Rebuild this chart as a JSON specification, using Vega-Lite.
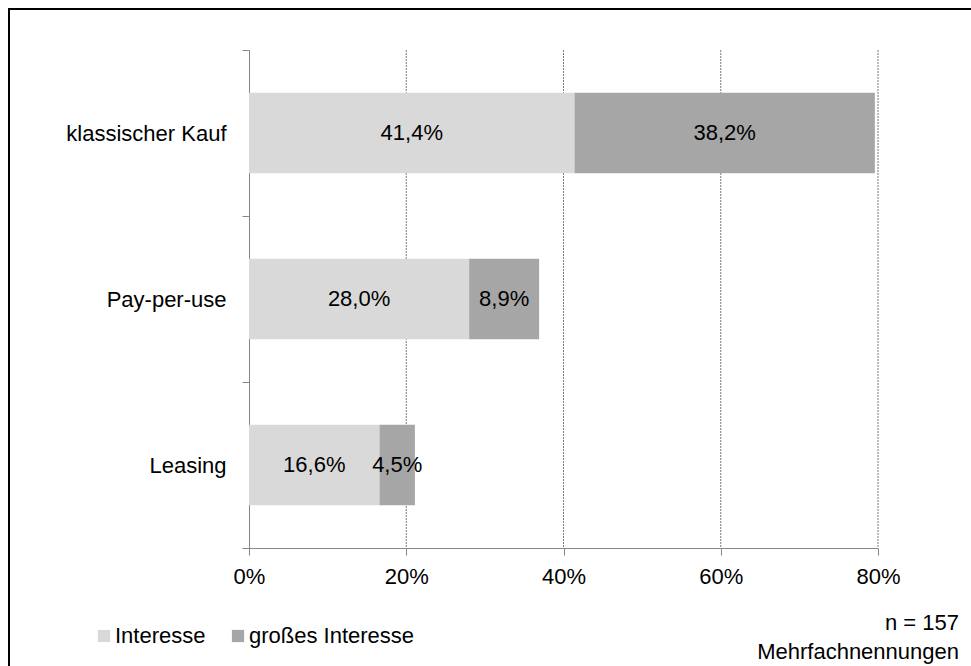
{
  "$schema": "https://vega.github.io/schema/vega-lite/v6.json",
  "autosize": "none",
  "padding": {"left": 9, "top": 9, "right": 0, "bottom": 0},
  "width": 965,
  "height": 665,
  "background": "white",
  "config": {
    "locale": {"number": {"decimal": ",", "thousands": ".", "grouping": [3], "currency": ["", " €"]}},
    "view": {"stroke": "black", "strokeWidth": 2},
    "font": "Liberation Sans",
    "axis": {
      "labelFont": "Liberation Sans",
      "labelFontSize": 22,
      "labelColor": "black",
      "domainColor": "#868686",
      "tickColor": "#868686",
      "tickSize": 7,
      "title": null
    },
    "legend": {"labelFont": "Liberation Sans"},
    "title": {"font": "Liberation Sans"}
  },
  "title": {
    "text": ["n = 157", "Mehrfachnennungen"],
    "orient": "bottom",
    "anchor": "end",
    "frame": "group",
    "align": "right",
    "offset": 0,
    "dx": -15,
    "dy": -61,
    "fontSize": 22,
    "fontWeight": "normal",
    "lineHeight": 29,
    "color": "black"
  },
  "data": {
    "values": [
      {"Option": "klassischer Kauf", "Stufe": "Interesse", "Rang": 1, "Anteil": 0.414},
      {"Option": "klassischer Kauf", "Stufe": "großes Interesse", "Rang": 2, "Anteil": 0.382},
      {"Option": "Pay-per-use", "Stufe": "Interesse", "Rang": 1, "Anteil": 0.28},
      {"Option": "Pay-per-use", "Stufe": "großes Interesse", "Rang": 2, "Anteil": 0.089},
      {"Option": "Leasing", "Stufe": "Interesse", "Rang": 1, "Anteil": 0.166},
      {"Option": "Leasing", "Stufe": "großes Interesse", "Rang": 2, "Anteil": 0.045}
    ]
  },
  "resolve": {"scale": {"y": "independent"}},
  "layer": [
    {
      "data": {"values": [{"Marke": 0.2}, {"Marke": 0.4}, {"Marke": 0.6}, {"Marke": 0.8}]},
      "mark": {"type": "rule", "color": "#7a7a7a", "strokeWidth": 1, "strokeDash": [2, 1]},
      "encoding": {
        "x": {
          "field": "Marke",
          "type": "quantitative",
          "scale": {"domain": [0, 0.8], "range": [240, 869], "nice": false, "zero": true},
          "axis": {
            "orient": "bottom",
            "offset": -126,
            "values": [0, 0.2, 0.4, 0.6, 0.8],
            "format": ".0%",
            "labelPadding": 11,
            "labelFlush": false,
            "grid": false,
            "title": null
          }
        },
        "y": {"datum": 0, "type": "quantitative", "scale": {"domain": [0, 1], "range": [41, 539]}, "axis": null},
        "y2": {"datum": 1}
      }
    },
    {
      "transform": [
        {"stack": "Anteil", "groupby": ["Option"], "sort": [{"field": "Rang", "order": "ascending"}], "as": ["v0", "v1"]}
      ],
      "layer": [
        {
          "mark": {"type": "bar", "height": {"band": 0.485}},
          "encoding": {
            "y": {
              "field": "Option",
              "type": "nominal",
              "sort": ["klassischer Kauf", "Pay-per-use", "Leasing"],
              "scale": {"range": [41, 539], "paddingInner": 0, "paddingOuter": 0},
              "axis": {"orient": "left", "offset": -240, "tickBand": "extent", "labelPadding": 16, "grid": false}
            },
            "x": {
              "field": "v0",
              "type": "quantitative",
              "axis": {
                "orient": "bottom",
                "offset": -126,
                "values": [0, 0.2, 0.4, 0.6, 0.8],
                "format": ".0%",
                "labelPadding": 11,
                "labelFlush": false,
                "grid": false,
                "title": null
              }
            },
            "x2": {"field": "v1"},
            "color": {
              "field": "Stufe",
              "type": "nominal",
              "scale": {"domain": ["Interesse", "großes Interesse"], "range": ["#d9d9d9", "#a6a6a6"]},
              "legend": {
                "orient": "none",
                "legendX": 84,
                "legendY": 616,
                "direction": "horizontal",
                "title": null,
                "padding": 0,
                "symbolType": "square",
                "symbolSize": 150,
                "symbolStrokeWidth": 0,
                "labelFontSize": 22,
                "labelColor": "black",
                "labelLimit": 400,
                "labelOffset": 0,
                "columnPadding": 21
              }
            }
          }
        },
        {
          "transform": [
            {"fold": ["v0", "v1"], "as": ["Kante", "Pos"]},
            {"aggregate": [{"op": "mean", "field": "Pos", "as": "Mitte"}], "groupby": ["Option", "Stufe", "Anteil"]}
          ],
          "mark": {"type": "text", "fontSize": 22, "color": "black", "font": "Liberation Sans"},
          "encoding": {
            "y": {"field": "Option", "type": "nominal", "sort": ["klassischer Kauf", "Pay-per-use", "Leasing"]},
            "x": {"field": "Mitte", "type": "quantitative"},
            "text": {"field": "Anteil", "type": "quantitative", "format": ".1%"}
          }
        }
      ]
    }
  ]
}
